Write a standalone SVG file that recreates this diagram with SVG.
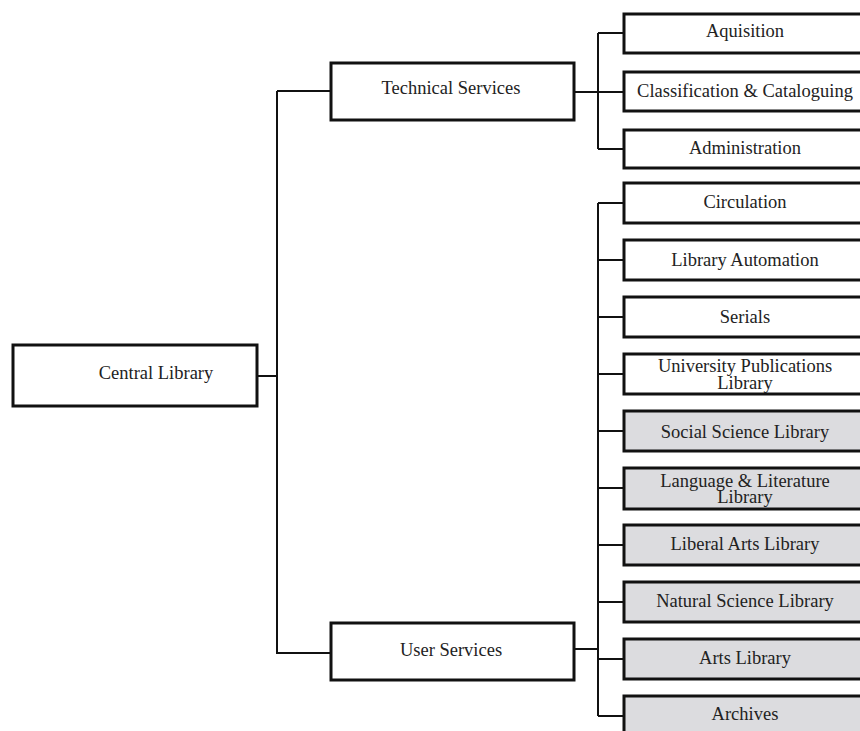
<svg xmlns="http://www.w3.org/2000/svg" width="860" height="731" viewBox="0 0 860 731">
<style>
.box{fill:#fff;stroke:#111;stroke-width:3}
.gray{fill:#dcdcdf}
.t{font-family:"Liberation Serif","Times New Roman",serif;font-size:18.5px;fill:#222;text-anchor:middle}
.c{fill:none;stroke:#111;stroke-width:2}
</style>
<rect width="860" height="731" fill="#fff"/>
<g id="connectors">
<path class="c" d="M257,376H277M277,91V654M277,91H331M277,653H331"/>
<path class="c" d="M574,92H624M598,33V149M598,33H624M598,149H624"/>
<path class="c" d="M574,649H598M598,203V716M598,203H624M598,260H624M598,317H624M598,374H624M598,431H624M598,488H624M598,545H624M598,602H624M598,659H624M598,716H624"/>
</g>
<g id="central"><rect class="box" x="13" y="345" width="244" height="61"/><text class="t" x="156" y="379">Central Library</text></g>
<g id="technical"><rect class="box" x="331" y="63" width="243" height="57"/><text class="t" x="451" y="94">Technical Services</text></g>
<g id="user"><rect class="box" x="331" y="623" width="243" height="57"/><text class="t" x="451" y="656">User Services</text></g>
<g id="aquisition"><rect class="box" x="624" y="14" width="240" height="39"/><text class="t" x="745" y="37">Aquisition</text></g>
<g id="classification"><rect class="box" x="624" y="72" width="240" height="39"/><text class="t" x="745" y="97">Classification &amp; Cataloguing</text></g>
<g id="administration"><rect class="box" x="624" y="130" width="240" height="38"/><text class="t" x="745" y="154">Administration</text></g>
<g id="circulation"><rect class="box" x="624" y="183" width="240" height="40"/><text class="t" x="745" y="208">Circulation</text></g>
<g id="automation"><rect class="box" x="624" y="240" width="240" height="40"/><text class="t" x="745" y="266">Library Automation</text></g>
<g id="serials"><rect class="box" x="624" y="297" width="240" height="40"/><text class="t" x="745" y="323">Serials</text></g>
<g id="upl"><rect class="box" x="624" y="354" width="240" height="40"/><text class="t" x="745" y="372">University Publications</text><text class="t" x="745" y="389">Library</text></g>
<g id="ssl"><rect class="box gray" x="624" y="411" width="240" height="40"/><text class="t" x="745" y="438">Social Science Library</text></g>
<g id="lll"><rect class="box gray" x="624" y="468" width="240" height="41"/><text class="t" x="745" y="487">Language &amp; Literature</text><text class="t" x="745" y="503">Library</text></g>
<g id="lal"><rect class="box gray" x="624" y="525" width="240" height="40"/><text class="t" x="745" y="550">Liberal Arts Library</text></g>
<g id="nsl"><rect class="box gray" x="624" y="582" width="240" height="40"/><text class="t" x="745" y="607">Natural Science Library</text></g>
<g id="arts"><rect class="box gray" x="624" y="639" width="240" height="40"/><text class="t" x="745" y="664">Arts Library</text></g>
<g id="archives"><rect class="box gray" x="624" y="696" width="240" height="40"/><text class="t" x="745" y="720">Archives</text></g>
</svg>
